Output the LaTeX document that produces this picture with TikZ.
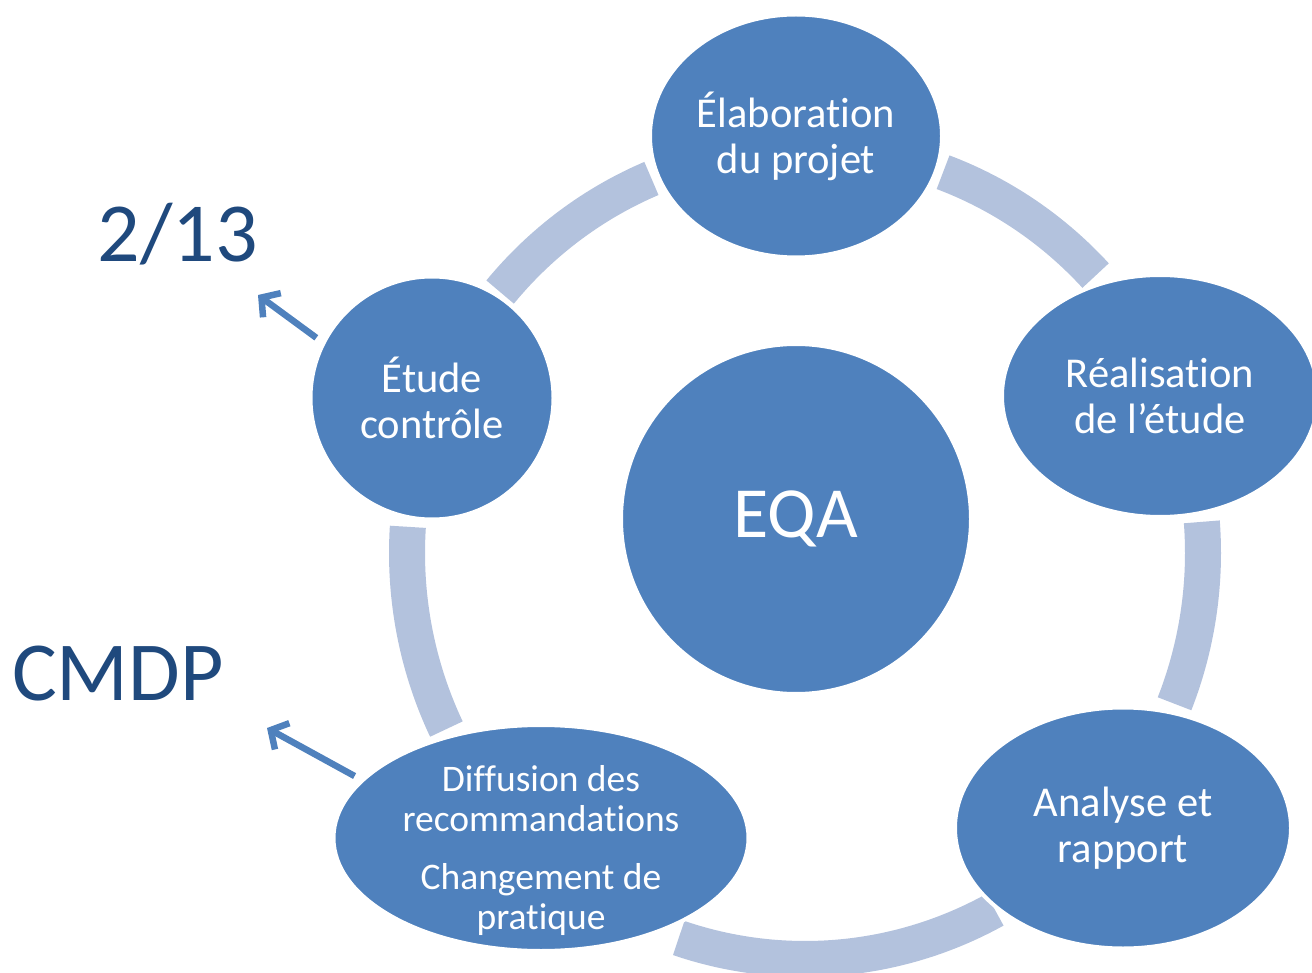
\documentclass[tikz,border=0pt]{standalone}
\usepackage{fontspec}
\setmainfont{Carlito}[Ligatures=NoCommon]
\usetikzlibrary{arrows.meta,shapes.geometric,calc}
\definecolor{nodeblue}{RGB}{79,129,189}
\definecolor{ringblue}{RGB}{179,194,221}
\definecolor{darkblue}{RGB}{31,73,125}
\begin{document}
\begin{tikzpicture}[x=1pt,y=-1pt,
  stage/.style={ellipse, fill=nodeblue, draw=white, line width=4pt, inner sep=0pt,
    text=white, align=center, font=\fontsize{42.5}{46}\selectfont},
  stagetext/.style={inner sep=0pt, text=white, align=center, font=\fontsize{37.5}{40}\selectfont},
  ringseg/.style={draw=ringblue, line width=36pt},
  pointer/.style={draw=nodeblue, line width=6.5pt, shorten <=7pt,
    -{Straight Barb[length=13pt,width=30pt]}},
  sidetext/.style={text=darkblue, inner sep=0pt, anchor=base, font=\fontsize{84}{90}\selectfont}]
\useasboundingbox (0,0) rectangle (1312,973);
% ring segments
\foreach \a/\b in {-140.0/-112.7, -69.7/-43.1, -4.4/21.8, 61.5/108.5, 154.3/183.7}{
  \draw[ringseg] plot[domain=\a:\b, samples=60, smooth] ({805+398*cos(\x)},{553+406*sin(\x)});
}
% stages
\node[stage, minimum width=292pt, minimum height=243pt] (elab) at (796,136) {Élaboration\\du projet};
\node[stage, minimum width=316pt, minimum height=242pt] (real) at (1160,396) {Réalisation\\de l’étude};
\node[stage, minimum width=336pt, minimum height=241pt] (anal) at (1123,828) {Analyse et\\rapport};
\node[stage, minimum width=415pt, minimum height=226pt] (diff) at (541,838) {};
\node[stagetext] (difftext) at (541,850)
  {Diffusion des\\recommandations\\[18pt]Changement de\\pratique};
\node[stage, minimum width=243pt, minimum height=243pt] (etude) at (432,398) {Étude\\contrôle};
\node[stage, minimum width=350pt, minimum height=350pt, font=\fontsize{72}{80}\selectfont] (eqa) at (796,519) {EQA};
% side labels
\node[sidetext] (n213) at (178,262) {2/13};
\node[sidetext] (cmdp) at (118,700) {CMDP};
\coordinate (t1) at (258,295);
\coordinate (t2) at (267,728);
\draw[pointer] (etude.153) -- (t1);
\draw[pointer] (diff.162) -- (t2);
\end{tikzpicture}
\end{document}
